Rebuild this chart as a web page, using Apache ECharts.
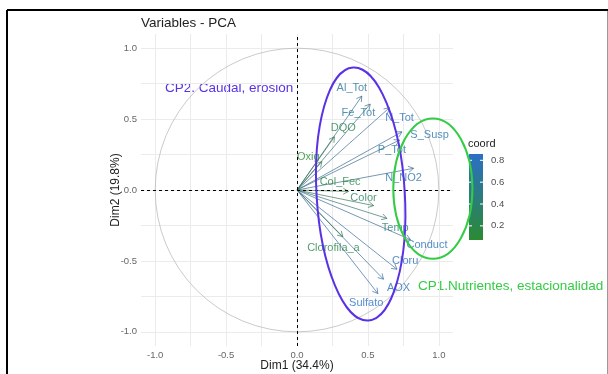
<!DOCTYPE html>
<html><head><meta charset="utf-8">
<script src="https://cdn.jsdelivr.net/npm/echarts@6/dist/echarts.min.js"></script>
<style>html,body{margin:0;padding:0;background:#fff}#c{width:608px;height:374px}</style>
</head><body><div id="c"></div>
<script>
// ---- data ----
const variables = ['Al_Tot','Fe_Tot','N_Tot','DQO','S_Susp','P_Tot','Oxig','N_NO2','Col_Fec','Color','Temp','Conduct','Cloru','AOX','Sulfato','Clorofila_a'];
const dim1 = [0.457, 0.516, 0.652, 0.264, 0.740, 0.723, 0.175, 0.822, 0.363, 0.540, 0.634, 0.800, 0.705, 0.610, 0.570, 0.323];
const dim2 = [0.662, 0.606, 0.580, 0.375, 0.410, 0.352, 0.200, 0.153, -0.010, -0.110, -0.200, -0.350, -0.559, -0.629, -0.730, -0.329];
const labelX = [0.387, 0.433, 0.723, 0.327, 0.935, 0.669, 0.080, 0.751, 0.304, 0.469, 0.693, 0.917, 0.763, 0.716, 0.488, 0.257];
const labelY = [0.716, 0.540, 0.505, 0.434, 0.387, 0.282, 0.235, 0.082, 0.058, -0.058, -0.270, -0.387, -0.498, -0.688, -0.798, -0.410];
const gridTicks = [-1, -0.75, -0.5, -0.25, 0, 0.25, 0.5, 0.75, 1];
const axisTickLabels = [-1, -0.5, 0, 0.5, 1];
const legendTicks = [0.2, 0.4, 0.6, 0.8];
const xName = 'Dim1 (34.4%)';
const yName = 'Dim2 (19.8%)';
const titleText = 'Variables - PCA';
const legendTitle = 'coord';
const noteCP2 = 'CP2. Caudal, erosión';
const noteCP1 = 'CP1.Nutrientes, estacionalidad';
// annotation ellipses: [cx, cy, rx, ry, rotation]
const ellipsePurple = [0.449, -0.028, 0.311, 0.894, 0.06];
const ellipseGreen = [0.958, 0.010, 0.279, 0.495, 0];

// ---- styling ----
const FONT = '"Liberation Sans", Arial, sans-serif';
const LOW = '#2a8b32', HIGH = '#2b6fc6';
const PURPLE = '#5a32e6', GREEN = '#33cc44';

const coord = dim1.map((x, i) => x * x + dim2[i] * dim2[i]);
const cmin = Math.min(...coord), cmax = Math.max(...coord);
function colorFor(v) { return echarts.color.lerp((v - cmin) / (cmax - cmin), [LOW, HIGH]); }
function arrowColor(v) { return echarts.color.lerp(0.3, [colorFor(v), '#4a4a4a']); }

const arrowData = variables.map((n, i) => [dim1[i], dim2[i], coord[i], i]);
const labelData = variables.map((n, i) => [labelX[i], labelY[i], coord[i], i]);

const chart = echarts.init(document.getElementById('c'), null, {renderer: 'canvas'});

const barX = 469, barY = 154, barW = 14, barH = 86;
const legendGraphics = [
  {type: 'text', left: 468, top: 138, style: {text: legendTitle, font: '11px ' + FONT, fill: '#222'}},
  {type: 'rect', shape: {x: barX, y: barY, width: barW, height: barH},
   style: {fill: new echarts.graphic.LinearGradient(0, 0, 0, 1, [{offset: 0, color: colorFor(cmax)}, {offset: 1, color: colorFor(cmin)}])}}
];
legendTicks.forEach(v => {
  const y = barY + barH * (cmax - v) / (cmax - cmin);
  legendGraphics.push({type: 'line', shape: {x1: barX, y1: y, x2: barX + 3, y2: y}, style: {stroke: '#fff', lineWidth: 1}});
  legendGraphics.push({type: 'line', shape: {x1: barX + barW - 3, y1: y, x2: barX + barW, y2: y}, style: {stroke: '#fff', lineWidth: 1}});
  legendGraphics.push({type: 'text', x: 491, y: y, style: {text: v.toFixed(1), font: '9.5px ' + FONT, fill: '#4d4d4d', verticalAlign: 'middle'}});
});

const option = {
  animation: false,
  backgroundColor: '#fff',
  title: {text: titleText, left: 141, top: 16, padding: 0,
    textStyle: {fontFamily: FONT, fontSize: 13.5, fontWeight: 'normal', color: '#222'}},
  grid: {left: 141, top: 34, width: 312, height: 312, outerBoundsMode: 'none', containLabel: false},
  xAxis: {
    type: 'value', min: -1.1, max: 1.1,
    axisLine: {show: false},
    axisTick: {show: false, customValues: gridTicks},
    axisLabel: {customValues: axisTickLabels, formatter: v => v.toFixed(1), color: '#666', fontSize: 9.5, fontFamily: FONT, margin: 4},
    splitLine: {show: true, lineStyle: {color: '#ebebeb', width: 1}},
    name: xName, nameLocation: 'middle', nameGap: 14, nameMoveOverlap: false,
    nameTextStyle: {fontFamily: FONT, fontSize: 12, color: '#222'}
  },
  yAxis: {
    type: 'value', min: -1.1, max: 1.1,
    axisLine: {show: false},
    axisTick: {show: false, customValues: gridTicks},
    axisLabel: {customValues: axisTickLabels, formatter: v => v.toFixed(1), color: '#666', fontSize: 9.5, fontFamily: FONT, margin: 4},
    splitLine: {show: true, lineStyle: {color: '#ebebeb', width: 1}},
    name: yName, nameLocation: 'middle', nameGap: 19, nameMoveOverlap: false,
    nameTextStyle: {fontFamily: FONT, fontSize: 12, color: '#222'}
  },
  series: [
    {
      type: 'custom', coordinateSystem: 'cartesian2d', z: 2, silent: true,
      data: [[0, 0, 1]],
      renderItem: (params, api) => {
        const c = api.coord([api.value(0), api.value(1)]);
        const s = api.size([api.value(2), api.value(2)]);
        return {type: 'circle', shape: {cx: c[0], cy: c[1], r: s[0]}, style: {stroke: '#bdbdbd', fill: null, lineWidth: 0.8}};
      },
      markLine: {silent: true, symbol: 'none', animation: false, label: {show: false},
        lineStyle: {color: '#000', type: [3, 3], width: 1},
        data: [{xAxis: 0}, {yAxis: 0}]}
    },
    {
      type: 'custom', coordinateSystem: 'cartesian2d', z: 3, silent: true,
      data: arrowData,
      renderItem: (params, api) => {
        const p0 = api.coord([0, 0]);
        const p1 = api.coord([api.value(0), api.value(1)]);
        const ang = Math.atan2(p1[1] - p0[1], p1[0] - p0[0]);
        const L = 6, A = Math.PI / 6;
        const a1 = [p1[0] - L * Math.cos(ang - A), p1[1] - L * Math.sin(ang - A)];
        const a2 = [p1[0] - L * Math.cos(ang + A), p1[1] - L * Math.sin(ang + A)];
        const col = arrowColor(api.value(2));
        return {type: 'group', children: [
          {type: 'line', shape: {x1: p0[0], y1: p0[1], x2: p1[0], y2: p1[1]}, style: {stroke: col, lineWidth: 0.8, opacity: 0.85}},
          {type: 'polyline', shape: {points: [a1, p1, a2]}, style: {stroke: col, fill: null, lineWidth: 0.8, opacity: 0.85}}
        ]};
      }
    },
    {
      type: 'custom', coordinateSystem: 'cartesian2d', z: 4, silent: true,
      data: labelData,
      renderItem: (params, api) => {
        const p = api.coord([api.value(0), api.value(1)]);
        return {type: 'text', x: p[0], y: p[1], style: {text: variables[api.value(3)], font: '11px ' + FONT,
          fill: colorFor(api.value(2)), align: 'center', verticalAlign: 'middle', opacity: 0.8}};
      }
    },
    {
      type: 'custom', coordinateSystem: 'cartesian2d', z: 5, silent: true, clip: false,
      data: [ellipsePurple.concat([0]), ellipseGreen.concat([1])],
      renderItem: (params, api) => {
        const c = api.coord([api.value(0), api.value(1)]);
        const s = api.size([api.value(2), api.value(3)]);
        return {type: 'ellipse', x: c[0], y: c[1], rotation: api.value(4),
          shape: {cx: 0, cy: 0, rx: s[0], ry: s[1]},
          style: {stroke: api.value(5) === 0 ? PURPLE : GREEN, fill: null, lineWidth: 2}};
      }
    }
  ],
  graphic: [
    {type: 'line', shape: {x1: 7, y1: 10, x2: 608, y2: 10}, style: {stroke: '#000', lineWidth: 2}},
    {type: 'line', shape: {x1: 7, y1: 10, x2: 7, y2: 374}, style: {stroke: '#000', lineWidth: 2}},
    {type: 'line', shape: {x1: 607.5, y1: 11, x2: 607.5, y2: 374}, style: {stroke: '#999', lineWidth: 1}},
    {type: 'text', x: 165, y: 88, style: {text: noteCP2, font: '13.5px ' + FONT, fill: PURPLE, verticalAlign: 'middle'}},
    {type: 'text', x: 418, y: 286, style: {text: noteCP1, font: '13.5px ' + FONT, fill: GREEN, verticalAlign: 'middle'}}
  ].concat(legendGraphics)
};
chart.setOption(option);
</script>
</body></html>
